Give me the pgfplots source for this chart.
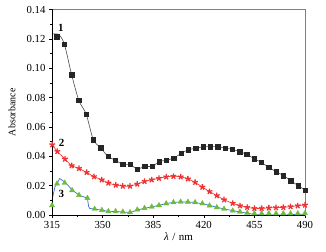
\documentclass[border=0pt]{standalone}
\usepackage{fontspec}
\setmainfont{Liberation Serif}
\usepackage{pgfplots}
\pgfplotsset{compat=1.18}
\definecolor{fgray}{HTML}{808080}
\definecolor{sred}{HTML}{F03030}
\definecolor{tgreen}{HTML}{6DBB3C}
\definecolor{lblue}{HTML}{3A6FD0}
\begin{document}
\begin{tikzpicture}
\useasboundingbox (-52bp,-37bp) rectangle (274bp,215bp);
\begin{axis}[
  at={(0,0)}, anchor=south west,
  scale only axis, width=253bp, height=205.5bp,
  xmin=315, xmax=490, ymin=0, ymax=0.14,
  xtick={315,350,385,420,455,490},
  ytick={0,0.02,0.04,0.06,0.08,0.10,0.12,0.14},
  minor x tick num=1, minor y tick num=1,
  tick align=outside, tick pos=left,
  major tick length=3bp, minor tick length=2bp,
  axis line style={fgray, line width=1pt},
  tick style={black, line width=0.5pt},
  /pgf/number format/assume math mode=true,
  yticklabel style={/pgf/number format/fixed, /pgf/number format/fixed zerofill, /pgf/number format/precision=2, font=\fontsize{10.8}{12}\selectfont},
  scaled y ticks=false,
  xticklabel style={font=\fontsize{10.8}{12}\selectfont},
  ylabel={Absorbance},
  ylabel style={at={(axis description cs:-0.158,0.5)}, anchor=center, font=\fontsize{10}{11}\selectfont},
  xlabel={{\itshape λ}\hspace{3.5pt}/\hspace{3.5pt}nm},
  xlabel style={at={(axis description cs:0.5,-0.107)}, anchor=center, font=\fontsize{11}{12}\selectfont},
]
% blue line (series 3)
\addplot[lblue, line width=0.7pt, no marks] coordinates {
(315,0.0100) (317,0.0190) (320.3,0.0248) (323.8,0.0225) (328.9,0.0172) (333.7,0.0135)
(339.5,0.0115) (340.3,0.0060) (341,0.0045) (344.5,0.0040) (349.5,0.0033) (354,0.0025)
(359,0.0024) (364,0.0020) (369,0.0017) (374,0.0034) (379,0.0046) (384,0.0055)
(389,0.0066) (394,0.0078) (399,0.0086) (404,0.0089) (409,0.0089) (414,0.0085)
(419,0.0077) (424,0.0066) (429,0.0053) (434,0.0041) (440,0.0030) (445,0.0021)
(450,0.0012) (455,0.0004) (460,0.0) (465,0.0) (470,0.0) (475,0.0) (480,0.0002)
(485,0.0004) (490,0.0006)
};
% green triangles
\addplot[only marks, mark=triangle*, mark size=3pt, tgreen] coordinates {
(315,0.0065) (318.5,0.0213) (323.8,0.0218) (328.9,0.0168) (333.7,0.0135) (339.5,0.0115)
(344.5,0.0041) (349.5,0.0033) (354,0.0025) (359,0.0025) (364,0.0022) (369,0.0018)
(374,0.0036) (379,0.0047) (384,0.0056) (389,0.0066) (394,0.0078) (399,0.0086)
(404,0.0090) (409,0.0089) (414,0.0086) (419,0.0078) (424,0.0064) (429,0.0052)
(434,0.0041) (440,0.0029) (445,0.0022) (450,0.0014) (455,0.0010) (460,0.0010)
(465,0.0010) (470,0.0010) (475,0.0010) (480,0.0010) (485,0.0010) (490,0.0012)
};
% red stars
\addplot[sred, line width=0.6pt, smooth, mark=star, mark size=3pt, mark options={line width=1.3pt}] coordinates {
(315.2,0.0479) (318.7,0.0433) (324,0.0381) (328.6,0.0336) (333.7,0.0317) (339,0.0290)
(344.1,0.0261) (349.4,0.0240) (354,0.0218) (359.1,0.0204) (364,0.0197) (369,0.0197)
(374,0.0211) (379,0.0229) (384,0.0240) (389,0.0250) (394,0.0260) (399,0.0264)
(404,0.0260) (409,0.0246) (414,0.0222) (419,0.0190) (424,0.0160) (429,0.0132)
(434,0.0104) (440,0.0080) (445,0.0063) (450,0.0052) (455,0.0045) (460,0.0045)
(465,0.0048) (470,0.0050) (475,0.0052) (480,0.0057) (485,0.0063) (490,0.0068)
};
% black line (series 1)
\addplot[black!70, line width=0.6pt, smooth, no marks] coordinates {
(315,0.1232) (319.5,0.1230) (323.5,0.1165) (328.6,0.0955) (333.6,0.0780) (338.6,0.0688)
(343.6,0.0513) (348.7,0.0458) (353.7,0.0399) (358.8,0.0374) (363.9,0.0345) (368.9,0.0345)
(374,0.0313) (379,0.0331) (384.1,0.0331) (389.2,0.0363) (394.2,0.0374) (399.3,0.0388)
(404.3,0.0420) (409.4,0.0445) (414.4,0.0454) (419.5,0.0465) (424.5,0.0465) (429.6,0.0465)
(434.7,0.0456) (439.7,0.0447) (444.8,0.0431) (449.8,0.0413) (454.9,0.0383) (459.9,0.0358)
(465,0.0324) (470,0.0295) (475.1,0.0268) (480.2,0.0234) (485.2,0.0200) (490,0.0170)
};
% black squares
\addplot[only marks, mark=square*, mark size=2.2pt, black!85] coordinates {
(318.3,0.1216) (323.5,0.1165) (328.6,0.0955) (333.6,0.0780) (338.6,0.0688)
(343.6,0.0513) (348.7,0.0458) (353.7,0.0399) (358.8,0.0374) (363.9,0.0345) (368.9,0.0345)
(374,0.0313) (379,0.0331) (384.1,0.0331) (389.2,0.0363) (394.2,0.0374) (399.3,0.0388)
(404.3,0.0420) (409.4,0.0445) (414.4,0.0454) (419.5,0.0465) (424.5,0.0465) (429.6,0.0465)
(434.7,0.0456) (439.7,0.0447) (444.8,0.0431) (449.8,0.0413) (454.9,0.0383) (459.9,0.0358)
(465,0.0324) (470,0.0295) (475.1,0.0268) (480.2,0.0234) (485.2,0.0200) (490,0.0170)
};
\node[font=\bfseries\fontsize{11}{12}\selectfont] at (axis cs:321.2,0.1273) {1};
\node[font=\bfseries\fontsize{11}{12}\selectfont] at (axis cs:321.7,0.0494) {2};
\node[font=\bfseries\fontsize{11}{12}\selectfont] at (axis cs:321.4,0.0143) {3};
\draw[black, line width=0.8pt] (rel axis cs:0,1) -- (rel axis cs:0,0) -- (rel axis cs:1,0);
\end{axis}
\end{tikzpicture}
\end{document}
